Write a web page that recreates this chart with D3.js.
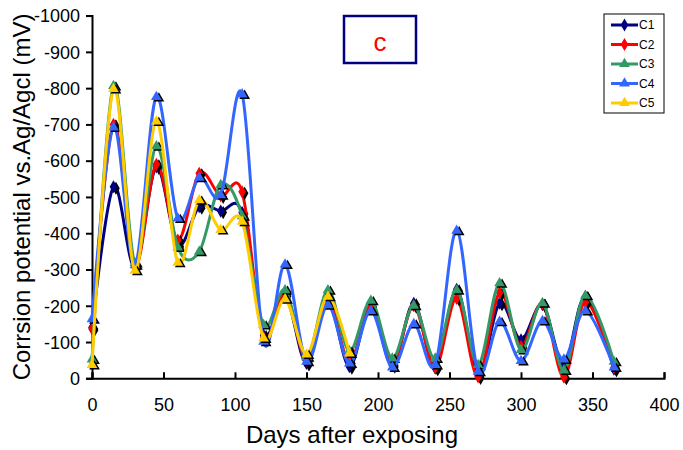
<!DOCTYPE html>
<html>
<head>
<meta charset="utf-8">
<script src="https://cdn.jsdelivr.net/npm/d3@7"></script>
<style>
  html, body { margin: 0; padding: 0; background: #fff; }
  svg { display: block; font-family: "Liberation Sans", Arial, sans-serif; }
</style>
</head>
<body>
<svg id="chart" width="683" height="450"></svg>
<script>
// Exposure days at which potentials were measured
const days = [0, 15, 30, 45, 60, 75, 90, 105, 120, 135, 150, 165, 180, 195, 210, 225, 240, 255, 270, 285, 300, 315, 330, 345, 365];

// Corrosion potential (mV vs. Ag/AgCl) per specimen
const c1 = [-140, -528, -307, -583, -367, -473, -461, -457, -119, -230, -41, -215, -32, -200, -35, -207, -28, -245, -8, -207, -106, -203, -37, -225, -25];
const c2 = [-136, -700, -310, -590, -381, -565, -503, -514, -112, -237, -50, -215, -45, -200, -40, -200, -30, -220, -4, -236, -88, -205, -3, -210, -30];
const c3 = [-52, -806, -318, -640, -361, -349, -533, -447, -147, -243, -58, -243, -75, -214, -55, -200, -55, -243, -37, -262, -78, -207, -22, -228, -46];
const c4 = [-163, -692, -312, -776, -441, -553, -505, -783, -101, -314, -46, -202, -41, -186, -30, -150, -37, -407, -18, -156, -48, -158, -52, -186, -30];
const c5 = [-37, -798, -297, -708, -319, -491, -409, -432, -110, -218, -66, -225, -69];

const seriesNames = ["C1", "C2", "C3", "C4", "C5"];
const seriesValues = [c1, c2, c3, c4, c5];
const seriesColors = ["#000080", "#ff0000", "#339966", "#3366ff", "#ffcc00"];
const seriesMarkers = ["diamond", "diamond", "triangle", "triangle", "triangle"];

const xTicks = [0, 50, 100, 150, 200, 250, 300, 350, 400];
const yTicks = [0, -100, -200, -300, -400, -500, -600, -700, -800, -900, -1000];

const svg = d3.select("#chart");
const plot = { left: 92, right: 664, top: 15.6, bottom: 378.3 };

const x = d3.scaleLinear().domain([0, 400]).range([plot.left, plot.right]);
const y = d3.scaleLinear().domain([0, -1000]).range([plot.bottom, plot.top]);

// Axes
const xAxis = svg.append("g")
  .attr("transform", `translate(0,${plot.bottom})`)
  .call(d3.axisBottom(x).tickValues(xTicks).tickSize(-6).tickPadding(20).tickFormat(d => String(d)));
const yAxis = svg.append("g")
  .attr("transform", `translate(${plot.left},0)`)
  .call(d3.axisLeft(y).tickValues(yTicks).tickSize(6).tickPadding(6).tickFormat(d => String(d)));

[xAxis, yAxis].forEach(g => {
  g.select(".domain").attr("stroke", "#000").attr("stroke-width", 2);
  g.selectAll(".tick line").attr("stroke", "#000").attr("stroke-width", 2);
  g.selectAll(".tick text").attr("fill", "#000").style("font-size", "18px")
    .style("font-family", "'Liberation Sans', Arial, sans-serif");
});
yAxis.selectAll(".tick text").attr("dy", "0.35em");

// Axis titles
svg.append("text")
  .attr("x", 352)
  .attr("y", 443)
  .attr("text-anchor", "middle")
  .style("font-size", "24px")
  .text("Days after exposing");

svg.append("text")
  .attr("transform", `translate(30,${(plot.top + plot.bottom) / 2 - 0}) rotate(-90)`)
  .attr("text-anchor", "middle")
  .style("font-size", "24px")
  .text("Corrsion potential vs.Ag/Agcl (mV)");

// Panel label
svg.append("rect")
  .attr("x", 344).attr("y", 16).attr("width", 72).attr("height", 47)
  .attr("fill", "#fff").attr("stroke", "#000080").attr("stroke-width", 2.5);
svg.append("text")
  .attr("x", 380).attr("y", 51)
  .attr("text-anchor", "middle")
  .attr("fill", "#ff0000")
  .style("font-size", "26px")
  .text("c");

// Marker shapes
const symbolFor = kind => kind === "diamond"
  ? d3.symbol().type(d3.symbolDiamond).size(50)
  : d3.symbol().type(d3.symbolTriangle).size(50);

const line = d3.line()
  .x(d => x(d.day))
  .y(d => y(d.v))
  .curve(d3.curveCardinal.tension(0));

const seriesLayer = svg.append("g");
seriesNames.forEach((name, i) => {
  const pts = seriesValues[i].map((v, j) => ({ day: days[j], v }));
  const g = seriesLayer.append("g");
  g.append("path")
    .datum(pts)
    .attr("fill", "none")
    .attr("stroke", seriesColors[i])
    .attr("stroke-width", 3)
    .attr("stroke-linejoin", "round")
    .attr("d", line);
  const sym = symbolFor(seriesMarkers[i]);
  // drop shadow of each marker
  g.selectAll(".shadow").data(pts).join("path")
    .attr("class", "shadow")
    .attr("d", sym)
    .attr("fill", "#000")
    .attr("transform", d => `translate(${x(d.day) + 2.5},${y(d.v) + 1.5})`);
  g.selectAll(".mark").data(pts).join("path")
    .attr("class", "mark")
    .attr("d", sym)
    .attr("fill", seriesColors[i])
    .attr("transform", d => `translate(${x(d.day)},${y(d.v)})`);
});

// Legend
const legend = svg.append("g");
legend.append("rect")
  .attr("x", 604).attr("y", 14).attr("width", 60).attr("height", 99)
  .attr("fill", "#fff").attr("stroke", "#000").attr("stroke-width", 1);
seriesNames.forEach((name, i) => {
  const ly = 25 + i * 19.5;
  const row = legend.append("g");
  row.append("line")
    .attr("x1", 611).attr("x2", 638).attr("y1", ly).attr("y2", ly)
    .attr("stroke", seriesColors[i]).attr("stroke-width", 3);
  row.append("path")
    .attr("d", symbolFor(seriesMarkers[i]))
    .attr("fill", seriesColors[i])
    .attr("transform", `translate(624.5,${ly})`);
  row.append("text")
    .attr("x", 639).attr("y", ly).attr("dy", "0.36em")
    .style("font-size", "12px")
    .text(name);
});
</script>
</body>
</html>
